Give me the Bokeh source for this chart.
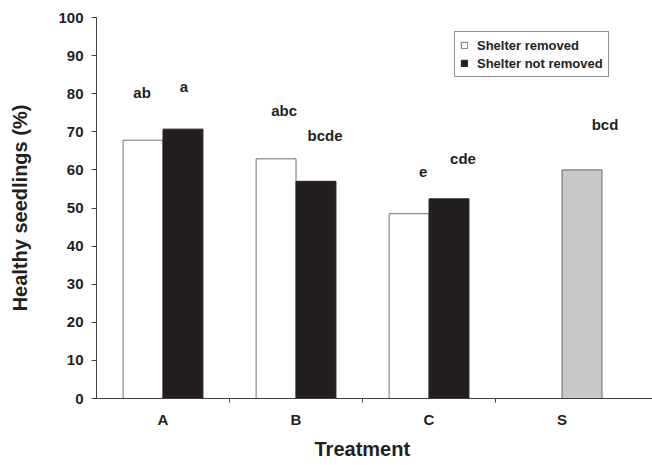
from bokeh.plotting import figure
from bokeh.models import ColumnDataSource, Range1d, FixedTicker, Legend, LegendItem, Title
from bokeh.core.properties import value
from bokeh.embed import file_html
from bokeh.resources import INLINE

# ---- data ----
categories = ["A", "B", "C", "S"]
removed = [67.8, 62.9, 48.5]          # Shelter removed (A, B, C)
not_removed = [70.7, 57.0, 52.4]      # Shelter not removed (A, B, C)
control = [60.0]                      # S
letters_removed = ["ab", "abc", "e"]
letters_not_removed = ["a", "bcde", "cde"]
letters_control = ["bcd"]
y_ticks = [0, 10, 20, 30, 40, 50, 60, 70, 80, 90, 100]

# ---- styling / layout ----
FONT = "Liberation Sans"
TXT = "#231f20"
BLACK = "#231f20"
GREY = "#c8c8c8"
bar_w = 0.30
shift = 0.15
label_gap = 12.0
# per-label pixel nudges (x, y) for the significance letters
nudge_removed = [(-1, -1.5), (8, -3), (14, 4)]
nudge_not_removed = [(1, 3.4), (9, 0), (14, 5)]
nudge_control = [(23, 0)]

p = figure(width=652, height=465, x_range=Range1d(0, 4.18), y_range=Range1d(0, 100),
           output_backend="svg", toolbar_location=None,
           min_border_left=96, min_border_right=0, min_border_top=17, min_border_bottom=67)
p.outline_line_color = None
p.xgrid.grid_line_color = None
p.ygrid.grid_line_color = None
p.background_fill_color = "white"
p.border_fill_color = "white"

centers = [i + 0.5 for i in range(len(categories))]

src_r = ColumnDataSource(dict(x=[c - shift for c in centers[:3]], top=removed))
src_n = ColumnDataSource(dict(x=[c + shift for c in centers[:3]], top=not_removed))
src_s = ColumnDataSource(dict(x=[centers[3] + shift], top=control))

r_r = p.vbar(x="x", top="top", width=bar_w, source=src_r, fill_color="white",
             line_color="#707070", line_width=1)
r_n = p.vbar(x="x", top="top", width=bar_w, source=src_n, fill_color=BLACK,
             line_color=BLACK, line_width=1)
p.vbar(x="x", top="top", width=bar_w, source=src_s, fill_color=GREY,
       line_color="#666666", line_width=1)

def letter_source(xs, tops, letters, nudges):
    return ColumnDataSource(dict(
        x=xs, y=[t + label_gap for t in tops], text=letters,
        xo=[n[0] for n in nudges], yo=[n[1] for n in nudges]))

for s in [letter_source(src_r.data["x"], removed, letters_removed, nudge_removed),
          letter_source(src_n.data["x"], not_removed, letters_not_removed, nudge_not_removed),
          letter_source(src_s.data["x"], control, letters_control, nudge_control)]:
    p.text(x="x", y="y", text="text", x_offset="xo", y_offset="yo", source=s,
           text_font=value(FONT), text_font_style="bold", text_font_size="15px",
           text_color=TXT, text_align="center", text_baseline="middle")

# ---- axes ----
xa = p.xaxis[0]
xa.ticker = FixedTicker(ticks=centers, minor_ticks=[1, 2, 3])
xa.major_label_overrides = {c: cat for c, cat in zip(centers, categories)}
xa.major_tick_out = 0
xa.major_tick_in = 0
xa.minor_tick_out = 4
xa.minor_tick_in = 0
xa.axis_line_color = "#404040"
xa.minor_tick_line_color = "#404040"
xa.major_label_text_font = FONT
xa.major_label_text_font_style = "bold"
xa.major_label_text_font_size = "15px"
xa.major_label_text_color = TXT
xa.major_label_standoff = 8

# x-axis title, centred under the four category slots
x_title = Title(text="Treatment", align="left", offset=218, standoff=10,
                text_font=FONT, text_font_style="bold", text_font_size="20px",
                text_color=TXT)
p.add_layout(x_title, "below")

ya = p.yaxis[0]
ya.ticker = FixedTicker(ticks=y_ticks, minor_ticks=[])
ya.major_tick_out = 5
ya.major_tick_in = 0
ya.minor_tick_line_color = None
ya.axis_line_color = "#404040"
ya.major_tick_line_color = "#404040"
ya.major_label_text_font = FONT
ya.major_label_text_font_style = "bold"
ya.major_label_text_font_size = "15px"
ya.major_label_text_color = TXT
ya.major_label_standoff = 8
ya.axis_label = "Healthy seedlings (%)"
ya.axis_label_text_font = FONT
ya.axis_label_text_font_style = "bold"
ya.axis_label_text_font_size = "20px"
ya.axis_label_text_color = TXT
ya.axis_label_standoff = 24

# ---- legend ----
legend = Legend(items=[LegendItem(label="Shelter removed", renderers=[r_r]),
                       LegendItem(label="Shelter not removed", renderers=[r_n])],
                location=(358, 321))
legend.border_line_color = "#231f20"
legend.border_line_width = 1
legend.background_fill_color = "white"
legend.label_text_font = FONT
legend.label_text_font_style = "bold"
legend.label_text_font_size = "13px"
legend.label_text_color = TXT
legend.glyph_width = 8
legend.glyph_height = 8
legend.label_standoff = 9
legend.label_height = 16
legend.spacing = 2
legend.padding = 5
legend.margin = 0
p.add_layout(legend, "center")

open("out.html", "w").write(file_html(p, INLINE))
